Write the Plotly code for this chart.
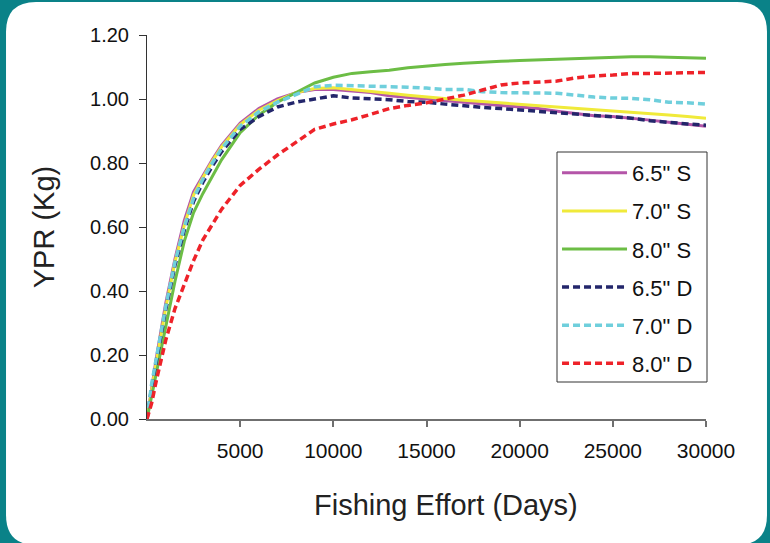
import plotly.graph_objects as go

effort = [0, 250, 500, 1000, 1500, 2000, 2500, 3000, 3500, 4000, 5000, 6000, 7000, 8000,
          9000, 10000, 11000, 12000, 13000, 14000, 15000, 16000, 17000, 18000, 19000,
          20000, 21000, 22000, 23000, 24000, 25000, 26000, 27000, 28000, 29000, 30000]

ypr_65S = [0, 0.10, 0.19, 0.36, 0.50, 0.62, 0.71, 0.76, 0.81, 0.855, 0.925, 0.97, 1.00, 1.02,
           1.03, 1.03, 1.025, 1.02, 1.01, 1.005, 1.00, 0.996, 0.99, 0.986, 0.982,
           0.977, 0.97, 0.962, 0.955, 0.948, 0.945, 0.94, 0.934, 0.927, 0.92, 0.915]
ypr_70S = [0, 0.095, 0.18, 0.345, 0.49, 0.605, 0.70, 0.755, 0.805, 0.85, 0.92, 0.965, 0.995, 1.02,
           1.033, 1.035, 1.03, 1.025, 1.018, 1.012, 1.006, 1.00, 0.996, 0.992, 0.988,
           0.984, 0.98, 0.975, 0.97, 0.966, 0.962, 0.958, 0.954, 0.95, 0.945, 0.94]
ypr_80S = [0, 0.07, 0.15, 0.29, 0.43, 0.555, 0.645, 0.705, 0.76, 0.81, 0.895, 0.95, 0.99, 1.02,
           1.05, 1.068, 1.08, 1.085, 1.09, 1.098, 1.104, 1.108, 1.112, 1.116, 1.118,
           1.12, 1.122, 1.124, 1.127, 1.129, 1.131, 1.132, 1.132, 1.131, 1.129, 1.127]
ypr_65D = [0, 0.10, 0.18, 0.34, 0.48, 0.59, 0.68, 0.74, 0.79, 0.835, 0.905, 0.945, 0.975, 0.99,
           1.00, 1.01, 1.003, 1.00, 0.998, 0.992, 0.99, 0.984, 0.978, 0.974, 0.97,
           0.966, 0.962, 0.958, 0.952, 0.948, 0.945, 0.94, 0.932, 0.926, 0.922, 0.918]
ypr_70D = [0, 0.11, 0.19, 0.35, 0.49, 0.60, 0.69, 0.75, 0.80, 0.845, 0.915, 0.96, 0.99, 1.015,
           1.038, 1.043, 1.042, 1.04, 1.038, 1.037, 1.034, 1.03, 1.03, 1.023, 1.02,
           1.02, 1.018, 1.018, 1.012, 1.006, 1.003, 1.002, 0.998, 0.99, 0.988, 0.984]
ypr_80D = [0, 0.05, 0.12, 0.245, 0.345, 0.42, 0.495, 0.56, 0.61, 0.655, 0.73, 0.78, 0.825, 0.865,
           0.905, 0.922, 0.935, 0.952, 0.97, 0.98, 0.988, 1.00, 1.012, 1.028, 1.044,
           1.05, 1.053, 1.056, 1.066, 1.072, 1.075, 1.08, 1.08, 1.081, 1.083, 1.083]

series_names = ['6.5" S', '7.0" S', '8.0" S', '6.5" D', '7.0" D', '8.0" D']
series_values = [ypr_65S, ypr_70S, ypr_80S, ypr_65D, ypr_70D, ypr_80D]
series_colors = ['#b455a8', '#f0ea3a', '#6cbd45', '#23266b', '#6fcfdc', '#ee2229']
series_dash = ['solid', 'solid', 'solid', '7px,4px', '7px,4px', '7px,4px']
series_width = [3, 3, 3, 3.5, 3.5, 3.5]

x_ticks = [5000, 10000, 15000, 20000, 25000, 30000]
y_ticks = [0, 0.2, 0.4, 0.6, 0.8, 1.0, 1.2]

fig = go.Figure()
for i, (name, vals) in enumerate(zip(series_names, series_values)):
    fig.add_trace(go.Scatter(
        x=effort, y=vals, name=name, mode='lines', legendgroup=f'g{i}',
        line=dict(color=series_colors[i], width=series_width[i], dash=series_dash[i]),
    ))

# white rounded panel on teal background (paper coords)
x0, x1, yb, yt = -0.2522, 1.1091, -0.328, 1.0859
rx, ry = 30 / 559, 30 / 384
path = (f"M{x0+rx},{yt} L{x1-rx},{yt} Q{x1},{yt} {x1},{yt-ry} L{x1},{yb+ry} "
        f"Q{x1},{yb} {x1-rx},{yb} L{x0+rx},{yb} Q{x0},{yb} {x0},{yb+ry} "
        f"L{x0},{yt-ry} Q{x0},{yt} {x0+rx},{yt} Z")
fig.add_shape(type='path', path=path, xref='paper', yref='paper',
              fillcolor='white', line=dict(width=0), layer='below')

# legend frame
fig.add_shape(type='rect', xref='paper', yref='paper',
              x0=(557 - 147) / 559, x1=(707 - 147) / 559,
              y0=(419 - 382) / 384, y1=(419 - 152) / 384,
              line=dict(color='#333', width=1), fillcolor='white', layer='above')

font_family = 'Liberation Sans, Arial, sans-serif'

fig.add_annotation(text='Fishing Effort (Days)', xref='paper', yref='paper',
                   x=(445.5 - 147) / 559, y=(419 - 505) / 384, xanchor='center', yanchor='middle',
                   showarrow=False, font=dict(size=29, color='#222', family=font_family))

fig.update_layout(
    width=770, height=543,
    margin=dict(l=147, r=64, t=35, b=124),
    paper_bgcolor='#0a8288', plot_bgcolor='white',
    font=dict(family=font_family, color='#111'),
    showlegend=True,
    legend=dict(
        x=0.7335, y=0.6953, xanchor='left', yanchor='top',
        bgcolor='rgba(0,0,0,0)', borderwidth=0,
        font=dict(size=22, family=font_family, color='#111'),
        tracegroupgap=6.5, traceorder='grouped', itemwidth=65,
    ),
    xaxis=dict(
        range=[0, 30000], tickvals=x_ticks, ticktext=[str(v) for v in x_ticks],
        showgrid=False, zeroline=False, showline=True, linecolor='#6f6f6f', linewidth=2,
        ticks='outside', ticklen=6, tickcolor='#6f6f6f', tickwidth=2,
        tickfont=dict(size=21, color='#111'), ticklabelstandoff=6,
        fixedrange=True,
    ),
    yaxis=dict(
        range=[0, 1.2], tickvals=y_ticks, tickformat='.2f',
        showgrid=False, zeroline=False, showline=True, linecolor='#333', linewidth=1,
        ticks='outside', ticklen=7, tickcolor='#333',
        tickfont=dict(size=20, color='#111'), ticklabelstandoff=6,
        title=dict(text='YPR (Kg)', font=dict(size=29, color='#222'), standoff=26),
        fixedrange=True,
    ),
)

fig.write_html('out.html', post_script="document.body.style.margin='0px';",
               config={'displayModeBar': False})
